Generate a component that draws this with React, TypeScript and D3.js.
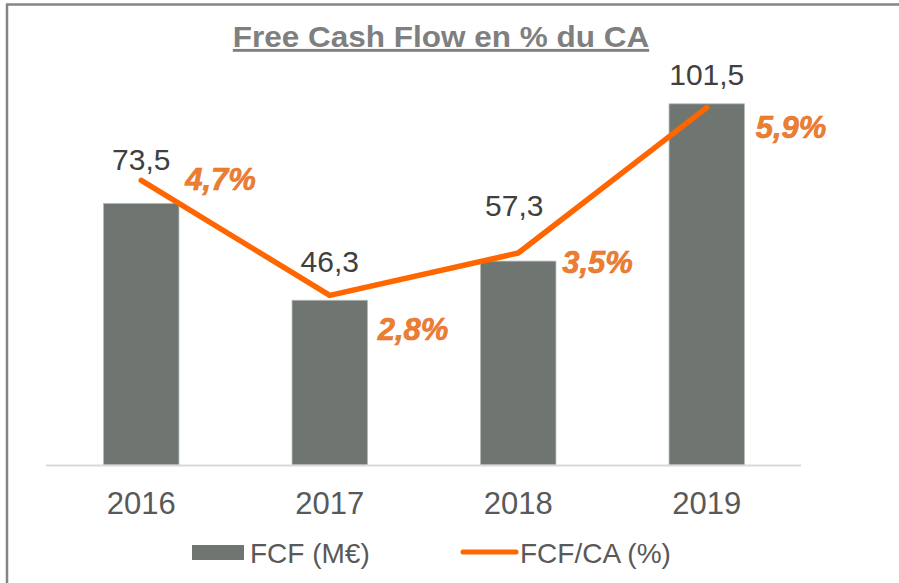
import * as d3 from "d3";

const years = ["2016", "2017", "2018", "2019"];
const fcf = [73.5, 46.3, 57.3, 101.5];
const fcfLabels = ["73,5", "46,3", "57,3", "101,5"];
const ratio = [4.7, 2.8, 3.5, 5.9];
const ratioLabels = ["4,7%", "2,8%", "3,5%", "5,9%"];

// hand placed label offsets (as in the original deck)
const valueOffsets = [
  { dx: 0, dy: 33 },
  { dx: 0, dy: 28 },
  { dx: -4, dy: 45 },
  { dx: 0, dy: 19 },
];
const pctOffsets = [
  { dx: 44, dy: 10 },
  { dx: 48, dy: 45 },
  { dx: 44, dy: 20 },
  { dx: 49, dy: 30 },
];

const width = 899;
const height = 583;
const baseY = 465;
const barColor = "#6f7571";
const lineColor = "#ff6600";
const pctColor = "#e8812f";
const font = "'Liberation Sans', Arial, sans-serif";

const App = () => {
  const x = d3
    .scaleBand()
    .domain(years)
    .range([47, 801])
    .paddingInner(0.6)
    .paddingOuter(0.3);

  const yBar = d3.scaleLinear().domain([0, 120]).range([baseY, 38]);
  const yPct = d3.scaleLinear().domain([0, 7]).range([baseY, 41]);

  const cx = (d: string) => x(d)! + x.bandwidth() / 2;

  const line = d3
    .line<number>()
    .x((_, i) => cx(years[i]))
    .y((d) => yPct(d));

  return (
    <div style={{ position: "fixed", left: 0, top: 0 }}>
      <svg width={width} height={height} style={{ display: "block", background: "#fff" }}>
        {/* frame */}
        <line x1={7} x2={7} y1={4} y2={height} stroke="#858585" strokeWidth={2.5} />
        <line x1={6} x2={width} y1={4.5} y2={4.5} stroke="#858585" strokeWidth={2.5} />

        <text
          x={441}
          y={47}
          textAnchor="middle"
          fontFamily={font}
          fontWeight="bold"
          fontSize={31.5}
          fill="#7f7f7f"
          textDecoration="underline"
          transform="translate(441,47) scale(1,0.92) translate(-441,-47)"
        >
          Free Cash Flow en % du CA
        </text>

        {fcf.map((v, i) => (
          <rect
            key={years[i]}
            x={x(years[i])}
            y={yBar(v)}
            width={x.bandwidth()}
            height={baseY - yBar(v)}
            fill={barColor}
            stroke="#b4b8b5"
            strokeWidth={0.8}
          />
        ))}

        <line x1={46} x2={801} y1={baseY + 0.5} y2={baseY + 0.5} stroke="#d9d9d9" strokeWidth={2} />

        {years.map((y) => (
          <text
            key={y}
            x={cx(y)}
            y={514}
            textAnchor="middle"
            fontFamily={font}
            fontSize={31}
            fill="#595959"
          >
            {y}
          </text>
        ))}

        {fcf.map((v, i) => (
          <text
            key={"v" + i}
            x={cx(years[i]) + valueOffsets[i].dx}
            y={yBar(v) - valueOffsets[i].dy}
            textAnchor="middle"
            fontFamily={font}
            fontSize={30}
            fill="#404040"
          >
            {fcfLabels[i]}
          </text>
        ))}

        <path
          d={line(ratio) ?? ""}
          fill="none"
          stroke={lineColor}
          strokeWidth={5.5}
          strokeLinecap="round"
          strokeLinejoin="round"
        />

        {ratio.map((v, i) => (
          <text
            key={"p" + i}
            x={cx(years[i]) + pctOffsets[i].dx}
            y={yPct(v) + pctOffsets[i].dy}
            fontFamily={font}
            fontSize={31}
            fontWeight="bold"
            fontStyle="italic"
            fill={pctColor}
            stroke="#ef6a2a"
            strokeWidth={0.6}
          >
            {ratioLabels[i]}
          </text>
        ))}

        {/* legend */}
        <rect x={192} y={545} width={52} height={15} fill={barColor} />
        <text x={250} y={563} fontFamily={font} fontSize={28} fill="#595959">
          FCF (M€)
        </text>
        <line
          x1={463}
          x2={516}
          y1={552}
          y2={552}
          stroke={lineColor}
          strokeWidth={5}
          strokeLinecap="round"
        />
        <text x={520} y={563} fontFamily={font} fontSize={28} fill="#595959">
          FCF/CA (%)
        </text>
      </svg>
    </div>
  );
};

export default App;
